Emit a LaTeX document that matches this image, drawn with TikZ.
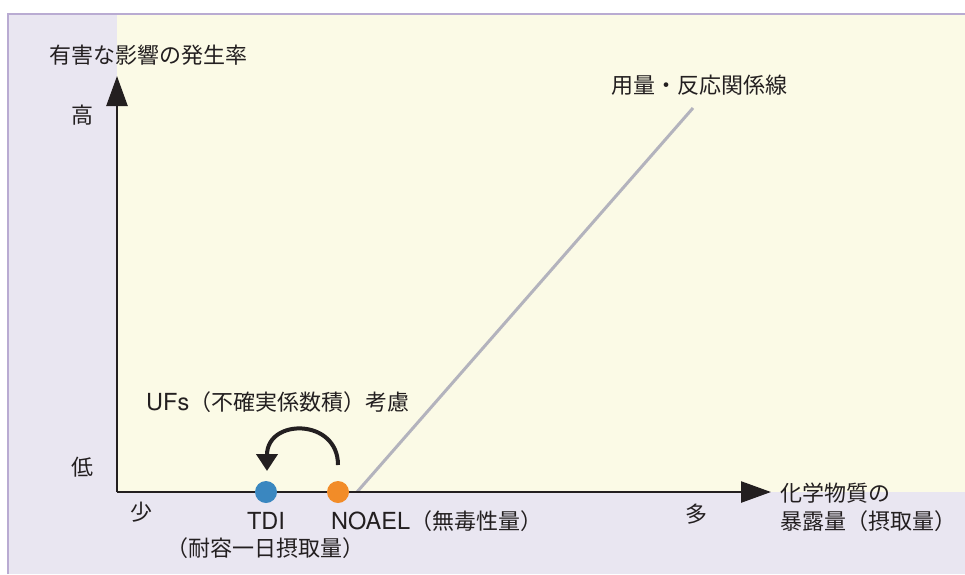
\documentclass[tikz,border=0pt]{standalone}
\usepackage{fontspec}
\setmainfont{Noto Sans CJK JP}
\newfontfamily\latfont{TeX Gyre Heros}
\newcommand{\lat}[1]{{\latfont\fontsize{23.5}{27}\selectfont #1}}
\usetikzlibrary{arrows.meta}
\definecolor{lav}{HTML}{E9E6F1}
\definecolor{lavline}{HTML}{B9ABD2}
\definecolor{ylw}{HTML}{FBFAE6}
\definecolor{ink}{HTML}{231F20}
\definecolor{dotblue}{HTML}{3A87C0}
\definecolor{dotorange}{HTML}{F28C28}
\definecolor{curve}{HTML}{B3B3BD}
\begin{document}
\begin{tikzpicture}[x=1pt,y=-1pt,
  lbl/.style={text=ink,inner sep=0pt,font=\fontsize{22}{26}\selectfont},
  axis/.style={draw=ink,line width=2.5pt},
  dot/.style={circle,minimum size=22pt,inner sep=0pt}]
\useasboundingbox (0,0) rectangle (965,574);
\fill[white] (0,0) rectangle (965,574);
\fill[lav] (8,14) rectangle (965,574);
\draw[lavline,line width=2pt] (8,574) -- (8,14) -- (965,14);
\fill[ylw] (117,15) rectangle (965,492);
% dose-response line
\coordinate (lstart) at (357,492);
\coordinate (lend) at (693,108);
\draw[curve,line width=3pt] (lstart) -- (lend);
% axes
\coordinate (origin) at (117,492);
\coordinate (ytip) at (117,76);
\coordinate (xtip) at (771,492);
\draw[axis,-{Triangle[length=30pt,width=21pt]}] (origin) -- (ytip);
\draw[axis,-{Triangle[length=30pt,width=21pt]}] (origin) -- (xtip);
% dots
\node[dot,fill=dotblue] (tdi) at (266,492) {};
\node[dot,fill=dotorange] (noael) at (338,492) {};
% curved arrow
\coordinate (cstart) at (338,465);
\coordinate (cend) at (267,471);
\draw[ink,line width=4pt,-{Triangle[length=17pt,width=21pt]}] (cstart) .. controls (338,418) and (267,418) .. (cend);
% labels
\node[lbl,anchor=west] (ylabel) at (49,55) {有害な影響の発生率};
\node[lbl] (high) at (82,115) {高};
\node[lbl] (low) at (82,467) {低};
\node[lbl,anchor=west] (dr) at (611,85) {用量・反応関係線};
\node[lbl,anchor=west] (ufs) at (146,402) {\lat{UFs}（不確実係数積）考慮};
\node[lbl] (few) at (141,512) {少};
\node[lbl] (tdilbl) at (266,521) {\lat{TDI}};
\node[lbl] (tdisub) at (265,548) {（耐容一日摂取量）};
\node[lbl,anchor=west] (noaellbl) at (331,521) {\lat{NOAEL}（無毒性量）};
\node[lbl] (many) at (696,514) {多};
\node[lbl,anchor=west] (xl1) at (780,493) {化学物質の};
\node[lbl,anchor=west] (xl2) at (780,521) {暴露量（摂取量）};
\end{tikzpicture}
\end{document}
